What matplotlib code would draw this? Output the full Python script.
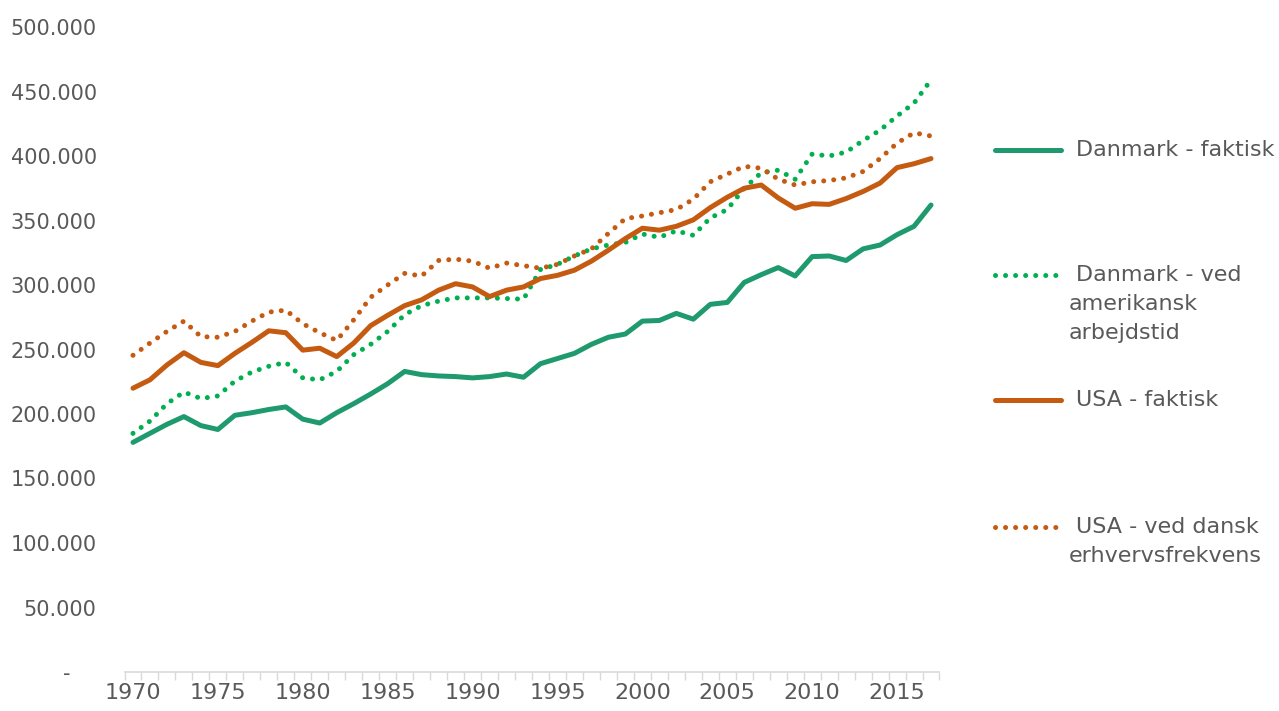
import matplotlib
matplotlib.use("Agg")
import matplotlib.pyplot as plt
from matplotlib.lines import Line2D
from matplotlib.ticker import FixedLocator, FuncFormatter

years = list(range(1970, 2018))

dk_actual = [178, 185, 192, 198, 191, 188, 199, 201, 203.5, 205.5,
             196, 193, 201, 208, 215.5, 223.5, 233, 230.5, 229.5, 229,
             228, 229, 231, 228.5, 239, 243, 247, 254, 259.5, 262,
             272, 272.5, 278, 273.5, 285, 286.5, 302, 308, 313.5, 307,
             322, 322.5, 319, 328, 331, 339, 345.5, 362]

dk_us_hours = [185, 194.5, 208, 217, 212, 214, 225.5, 232.5, 237, 240,
               228, 226.5, 233, 246, 254, 264, 277, 284, 287.5, 290,
               290, 290, 289.5, 289, 312, 316, 322.5, 328, 331, 333,
               339.5, 337, 342, 338.5, 352, 358.5, 375, 387, 389, 382,
               401.5, 400, 403, 412, 420, 431, 441, 459]

us_actual = [220, 226.5, 238, 247.5, 240, 237.5, 247, 255.5, 264.5, 263,
             249.5, 251, 244.5, 255, 268.5, 276.5, 284, 288.5, 296, 301,
             298.5, 291, 296, 298.5, 305, 307.5, 311.5, 318.5, 327, 336,
             344, 342.5, 345.5, 350.5, 360, 368, 375, 377.5, 367.5, 359.5,
             363, 362.5, 367, 372.5, 379, 391, 394, 398]

us_dk_rate = [245.5, 255, 264, 272, 260, 259.5, 264, 272, 279, 280.5,
              270, 263, 257, 273, 290.5, 300, 309, 307, 319, 320,
              318.5, 313, 317, 315, 313, 316, 322.5, 328, 340, 351.5,
              353.5, 356, 358.5, 366.5, 380, 386, 392, 390.5, 382, 377.5,
              380, 381, 383, 388, 398, 410, 418, 415.5]

series_labels = ["Danmark - faktisk", "Danmark - ved\namerikansk\narbejdstid",
                 "USA - faktisk", "USA - ved dansk\nerhvervsfrekvens"]

C_DK = "#1F9A6E"
C_DK2 = "#00B050"
C_US = "#C55A11"
TXT = "#595959"

W, H = 1279, 711
fig = plt.figure(figsize=(W / 100, H / 100), dpi=100)
ax = fig.add_axes([124.5 / W, 39 / H, (939.5 - 124.5) / W, (684 - 39) / H])

x = list(range(len(years)))
lw = 3.6
dot = (0, (0.01, 2.0))
ax.plot(x, [v * 1000 for v in dk_actual], color=C_DK, lw=lw, solid_capstyle="round", solid_joinstyle="round", zorder=3)
ax.plot(x, [v * 1000 for v in dk_us_hours], color=C_DK2, lw=lw, linestyle=dot, dash_capstyle="round", zorder=3)
ax.plot(x, [v * 1000 for v in us_actual], color=C_US, lw=lw, solid_capstyle="round", solid_joinstyle="round", zorder=3)
ax.plot(x, [v * 1000 for v in us_dk_rate], color=C_US, lw=lw, linestyle=dot, dash_capstyle="round", zorder=3)

ax.set_xlim(-0.5, len(years) - 0.5)
ax.set_ylim(0, 500000)

ax.yaxis.set_major_locator(FixedLocator(range(0, 500001, 50000)))
ax.yaxis.set_major_formatter(FuncFormatter(lambda v, p: "-    " if v == 0 else f"{int(v):,}".replace(",", ".")))
ax.tick_params(axis="y", length=0, pad=20, labelsize=15, labelcolor=TXT)

ax.xaxis.set_major_locator(FixedLocator([i - 0.5 for i in range(len(years) + 1)]))
ax.xaxis.set_major_formatter(FuncFormatter(lambda v, p: ""))
ax.xaxis.set_minor_locator(FixedLocator([i for i, y in enumerate(years) if y % 5 == 0]))
ax.xaxis.set_minor_formatter(FuncFormatter(lambda v, p: str(years[int(round(v))])))
ax.tick_params(axis="x", which="major", length=6, color="#D9D9D9", width=1)
ax.tick_params(axis="x", which="minor", length=0, pad=8, labelcolor=TXT, labelsize=16)

for s in ["top", "right", "left"]:
    ax.spines[s].set_visible(False)
ax.spines["bottom"].set_color("#D9D9D9")
ax.spines["bottom"].set_linewidth(1.2)

# legend (manual, Excel style)
def fx(px):
    return px / W

def fy(py):
    return (H - py) / H

handles = [(C_DK, "-"), (C_DK2, dot), (C_US, "-"), (C_US, dot)]
ys = [150, 275, 400, 527]
for (col, ls), yy, lab in zip(handles, ys, series_labels):
    if ls == "-":
        ln = Line2D([fx(995), fx(1061)], [fy(yy), fy(yy)], transform=fig.transFigure,
                    color=col, lw=lw, solid_capstyle="round")
    else:
        ln = Line2D([fx(995), fx(1062)], [fy(yy), fy(yy)], transform=fig.transFigure,
                    color=col, lw=lw, linestyle=dot, dash_capstyle="round")
    fig.add_artist(ln)
    lines = lab.split("\n")
    fig.text(fx(1076), fy(yy), lines[0], ha="left", va="center", fontsize=16, color=TXT)
    for k, extra in enumerate(lines[1:], start=1):
        fig.text(fx(1069), fy(yy + 29 * k), extra, ha="left", va="center", fontsize=16, color=TXT)

fig.savefig("out.png", dpi=100)
